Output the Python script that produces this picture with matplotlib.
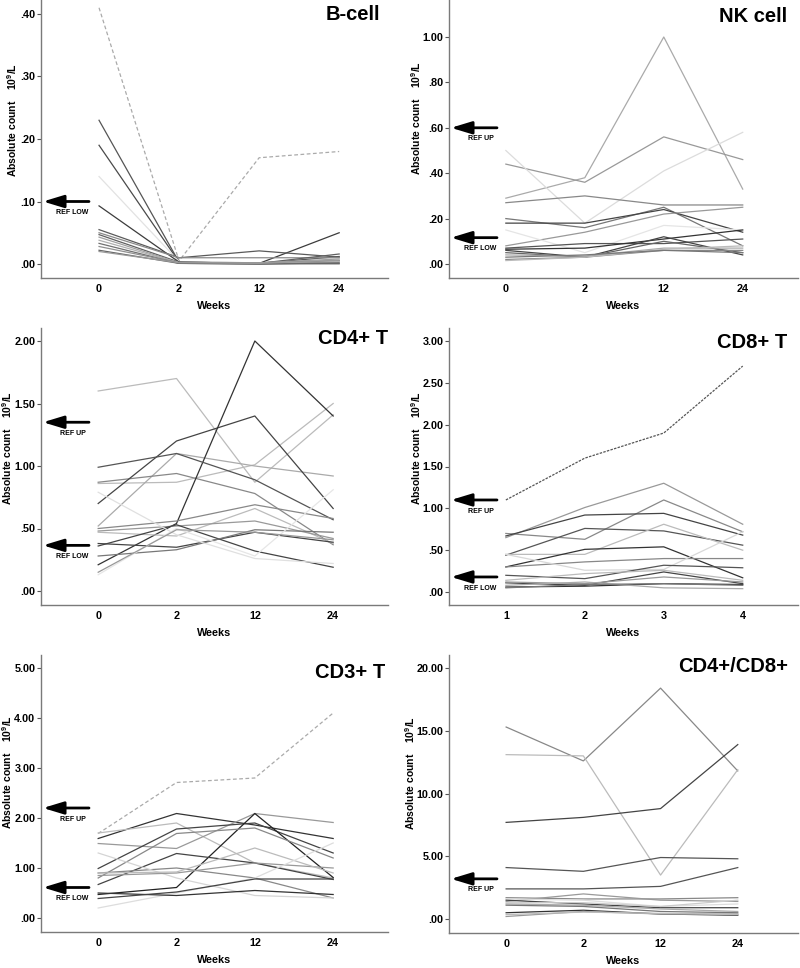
import matplotlib
matplotlib.use("Agg")
import matplotlib.pyplot as plt
from matplotlib.ticker import FuncFormatter, MultipleLocator

plt.rcParams['font.family'] = ['Liberation Sans', 'DejaVu Sans']
plt.rcParams['font.weight'] = 'bold'
plt.rcParams['mathtext.fontset'] = 'custom'
plt.rcParams['mathtext.rm'] = 'Liberation Sans:bold'
plt.rcParams['mathtext.bf'] = 'Liberation Sans:bold'
plt.rcParams['mathtext.it'] = 'Liberation Sans:bold:italic'

weeks = ['0', '2', '12', '24']
cd8_ticks = ['1', '2', '3', '4']

bcell_vals = [
    [0.41, 0.005, 0.17, 0.18],
    [0.23, 0.003, 0.001, 0.012],
    [0.19, 0.003, 0.002, 0.005],
    [0.14, 0.004, 0.001, 0.003],
    [0.093, 0.003, 0.001, 0.050],
    [0.055, 0.010, 0.021, 0.011],
    [0.050, 0.010, 0.010, 0.010],
    [0.047, 0.003, 0.001, 0.016],
    [0.043, 0.002, 0.002, 0.008],
    [0.038, 0.002, 0.000, 0.004],
    [0.033, 0.001, 0.000, 0.002],
    [0.028, 0.002, 0.001, 0.000],
    [0.022, 0.001, 0.000, 0.001],
    [0.020, 0.002, 0.001, 0.006],
]
bcell_colors = ['#aaaaaa', '#555555', '#4a4a4a', '#e2e2e2', '#3c3c3c', '#5a5a5a', '#8a8a8a',
                '#606060', '#a0a0a0', '#b0b0b0', '#707070', '#909090', '#666666', '#9a9a9a']
bcell_dashed = [0]
bcell_refs = [(0.10, 'REF LOW')]

nk_vals = [
    [0.29, 0.38, 1.00, 0.33],
    [0.44, 0.36, 0.56, 0.46],
    [0.50, 0.18, 0.41, 0.58],
    [0.27, 0.30, 0.26, 0.26],
    [0.20, 0.16, 0.25, 0.08],
    [0.18, 0.18, 0.24, 0.14],
    [0.08, 0.14, 0.22, 0.25],
    [0.15, 0.05, 0.17, 0.15],
    [0.07, 0.09, 0.09, 0.11],
    [0.065, 0.07, 0.11, 0.15],
    [0.06, 0.03, 0.12, 0.04],
    [0.05, 0.03, 0.10, 0.05],
    [0.04, 0.035, 0.07, 0.07],
    [0.02, 0.03, 0.06, 0.06],
    [0.015, 0.03, 0.065, 0.08],
    [0.03, 0.04, 0.06, 0.05],
]
nk_colors = ['#aaaaaa', '#999999', '#dcdcdc', '#888888', '#777777', '#444444', '#999999', '#e5e5e5',
             '#555555', '#333333', '#444444', '#666666', '#aaaaaa', '#888888', '#bbbbbb', '#777777']
nk_dashed = []
nk_refs = [(0.60, 'REF UP'), (0.116, 'REF LOW')]

cd4_vals = [
    [1.60, 1.70, 0.87, 1.41],
    [0.86, 0.87, 1.01, 1.50],
    [0.52, 1.10, 1.00, 0.92],
    [0.87, 0.94, 0.78, 0.37],
    [0.70, 1.20, 1.40, 0.66],
    [0.21, 0.54, 2.00, 1.40],
    [0.99, 1.10, 0.89, 0.57],
    [0.50, 0.56, 0.69, 0.58],
    [0.47, 0.44, 0.66, 0.38],
    [0.48, 0.52, 0.56, 0.42],
    [0.36, 0.53, 0.32, 0.19],
    [0.38, 0.35, 0.47, 0.39],
    [0.28, 0.33, 0.49, 0.47],
    [0.79, 0.45, 0.26, 0.22],
    [0.13, 0.50, 0.28, 0.81],
    [0.15, 0.49, 0.47, 0.41],
]
cd4_colors = ['#bbbbbb', '#bbbbbb', '#aaaaaa', '#888888', '#444444', '#333333', '#555555', '#888888',
              '#bbbbbb', '#999999', '#444444', '#444444', '#777777', '#e0e0e0', '#e6e6e6', '#999999']
cd4_dashed = []
cd4_refs = [(1.35, 'REF UP'), (0.365, 'REF LOW')]

cd8_vals = [
    [1.10, 1.60, 1.90, 2.70],
    [0.65, 1.01, 1.30, 0.81],
    [0.70, 0.63, 1.10, 0.72],
    [0.67, 0.92, 0.94, 0.68],
    [0.44, 0.76, 0.73, 0.56],
    [0.45, 0.45, 0.81, 0.50],
    [0.30, 0.51, 0.54, 0.17],
    [0.30, 0.36, 0.40, 0.40],
    [0.45, 0.26, 0.27, 0.72],
    [0.20, 0.16, 0.32, 0.29],
    [0.11, 0.08, 0.24, 0.10],
    [0.06, 0.07, 0.10, 0.09],
    [0.12, 0.10, 0.18, 0.12],
    [0.14, 0.22, 0.26, 0.14],
    [0.08, 0.12, 0.05, 0.04],
    [0.05, 0.09, 0.10, 0.08],
]
cd8_colors = ['#555555', '#999999', '#888888', '#444444', '#555555', '#bbbbbb', '#333333', '#888888',
              '#d8d8d8', '#555555', '#444444', '#333333', '#999999', '#bbbbbb', '#aaaaaa', '#777777']
cd8_dashed = [0]
cd8_refs = [(1.10, 'REF UP'), (0.18, 'REF LOW')]

cd3_vals = [
    [1.69, 2.71, 2.80, 4.10],
    [1.59, 2.09, 1.86, 1.59],
    [1.70, 1.90, 1.10, 0.80],
    [1.49, 1.39, 2.09, 1.91],
    [0.99, 1.78, 1.90, 1.30],
    [0.47, 0.61, 2.09, 0.81],
    [0.80, 1.69, 1.80, 1.20],
    [0.67, 1.29, 1.10, 0.77],
    [0.90, 1.00, 0.80, 0.40],
    [1.30, 0.80, 0.45, 0.40],
    [0.85, 0.90, 1.10, 1.00],
    [0.90, 0.92, 1.40, 0.90],
    [0.20, 0.50, 0.80, 1.50],
    [0.50, 0.45, 0.55, 0.47],
    [0.39, 0.52, 0.78, 0.78],
]
cd3_colors = ['#aaaaaa', '#333333', '#bbbbbb', '#999999', '#444444', '#222222', '#888888', '#444444',
              '#888888', '#d5d5d5', '#999999', '#bbbbbb', '#dddddd', '#333333', '#444444']
cd3_dashed = [0]
cd3_refs = [(2.2, 'REF UP'), (0.61, 'REF LOW')]

ratio_vals = [
    [15.3, 12.6, 18.4, 11.8],
    [13.1, 13.0, 3.5, 11.9],
    [7.7, 8.1, 8.8, 13.9],
    [4.1, 3.8, 4.9, 4.8],
    [2.4, 2.4, 2.6, 4.1],
    [1.7, 1.6, 1.6, 1.7],
    [1.4, 2.0, 1.5, 1.4],
    [1.6, 1.5, 1.0, 1.2],
    [1.5, 1.2, 0.9, 0.9],
    [1.3, 1.3, 1.0, 1.5],
    [1.2, 1.1, 0.8, 0.6],
    [1.1, 1.0, 0.6, 0.5],
    [0.5, 0.7, 0.4, 0.3],
    [0.2, 0.6, 0.4, 0.4],
    [0.35, 0.55, 0.45, 0.35],
]
ratio_colors = ['#888888', '#bbbbbb', '#444444', '#555555', '#555555', '#888888', '#999999', '#dddddd',
                '#444444', '#cccccc', '#aaaaaa', '#777777', '#333333', '#999999', '#bbbbbb']
ratio_dashed = []
ratio_refs = [(3.2, 'REF UP')]

titles = ['B-cell', 'NK cell', 'CD4+ T', 'CD8+ T', 'CD3+ T', 'CD4+/CD8+']

W, H = 800, 968
fig = plt.figure(figsize=(W / 100, H / 100), dpi=100)

# layout (pixel boxes) and per-panel styling
panels = [
    dict(vals=bcell_vals, colors=bcell_colors, dashed=bcell_dashed, refs=bcell_refs, xt=weeks,
         box=(41, 388, 0, 278), xlim=(-0.725, 3.61), ylim=(-0.0224, 0.4224), step=0.1,
         title_xy=(380, 15), ylab_xy=(12, 120), dash=(3, 2)),
    dict(vals=nk_vals, colors=nk_colors, dashed=nk_dashed, refs=nk_refs, xt=weeks,
         box=(449, 798, 0, 278), xlim=(-0.72, 3.70), ylim=(-0.0617, 1.163), step=0.2,
         title_xy=(787, 17), ylab_xy=(416, 118), dash=(3, 2)),
    dict(vals=cd4_vals, colors=cd4_colors, dashed=cd4_dashed, refs=cd4_refs, xt=weeks,
         box=(41, 388, 328, 605), xlim=(-0.73, 3.70), ylim=(-0.112, 2.104), step=0.5,
         title_xy=(388, 338), ylab_xy=(7, 448), dash=(3, 2)),
    dict(vals=cd8_vals, colors=cd8_colors, dashed=cd8_dashed, refs=cd8_refs, xt=cd8_ticks,
         box=(449, 798, 328, 605), xlim=(-0.72, 3.70), ylim=(-0.155, 3.155), step=0.5,
         title_xy=(787, 342), ylab_xy=(416, 448), dash=(2, 1)),
    dict(vals=cd3_vals, colors=cd3_colors, dashed=cd3_dashed, refs=cd3_refs, xt=weeks,
         box=(41, 388, 655, 932), xlim=(-0.73, 3.70), ylim=(-0.28, 5.26), step=1.0,
         title_xy=(385, 673), ylab_xy=(7, 772), dash=(3, 2)),
    dict(vals=ratio_vals, colors=ratio_colors, dashed=ratio_dashed, refs=ratio_refs, xt=weeks,
         box=(449, 798, 655, 933), xlim=(-0.74, 3.78), ylim=(-1.115, 21.04), step=5.0,
         title_xy=(788, 667), ylab_xy=(410, 773), dash=(3, 2)),
]


def spss_fmt(v, pos):
    s = f"{v:.2f}"
    if s.startswith("0."):
        s = s[1:]
    return s


for p, title in zip(panels, titles):
    l, r, t, b = p['box']
    ax = fig.add_axes([l / W, 1 - b / H, (r - l) / W, (b - t) / H])
    ax.set_facecolor('none')
    xs = list(range(len(p['xt'])))
    for i, (v, c) in enumerate(zip(p['vals'], p['colors'])):
        if i in p['dashed']:
            ax.plot(xs, v, color=c, lw=0.9, dashes=p['dash'])
        else:
            ax.plot(xs, v, color=c, lw=0.9)
    ax.set_xlim(*p['xlim'])
    ax.set_ylim(*p['ylim'])
    ax.set_xticks(xs)
    ax.set_xticklabels(p['xt'])
    ax.yaxis.set_major_locator(MultipleLocator(p['step']))
    ax.yaxis.set_major_formatter(FuncFormatter(spss_fmt))
    for s in ['top', 'right']:
        ax.spines[s].set_visible(False)
    for s in ['left', 'bottom']:
        ax.spines[s].set_color('#7a7a7a')
        ax.spines[s].set_linewidth(1.0)
    ax.tick_params(axis='y', length=3, width=0.8, color='#555555', pad=1, labelsize=7.8)
    ax.tick_params(axis='x', length=0, pad=4.5, labelsize=7.8)
    for lab in ax.get_xticklabels() + ax.get_yticklabels():
        lab.set_fontweight('bold')

    # reference arrows
    w = r - l
    for yv, txt in p['refs']:
        ax.annotate('', xy=(2 / w, yv), xycoords=('axes fraction', 'data'),
                    xytext=(48 / w, yv), textcoords=('axes fraction', 'data'),
                    arrowprops=dict(arrowstyle='-|>,head_length=1.25,head_width=0.38',
                                    lw=2.0, color='black', shrinkA=0, shrinkB=0,
                                    mutation_scale=10),
                    annotation_clip=False)
        ax.annotate(txt, xy=(31.5 / w, yv), xycoords=('axes fraction', 'data'),
                    xytext=(0, -8), textcoords='offset points', ha='center', va='center',
                    fontsize=5, fontweight='bold', annotation_clip=False)

    # title
    tx, ty = p['title_xy']
    fig.text(tx / W, 1 - ty / H, title, ha='right', va='center', fontsize=14.5, fontweight='bold')
    # y label
    yx, yy = p['ylab_xy']
    fig.text(yx / W, 1 - yy / H, r'Absolute count    10$^{9}$/L', rotation=90, ha='center',
             va='center', fontsize=7.5, fontweight='bold')
    # x label
    fig.text(((l + r) / 2) / W, 1 - (b + 28) / H, 'Weeks', ha='center', va='center',
             fontsize=7.8, fontweight='bold')

fig.savefig('out.png', dpi=100)
